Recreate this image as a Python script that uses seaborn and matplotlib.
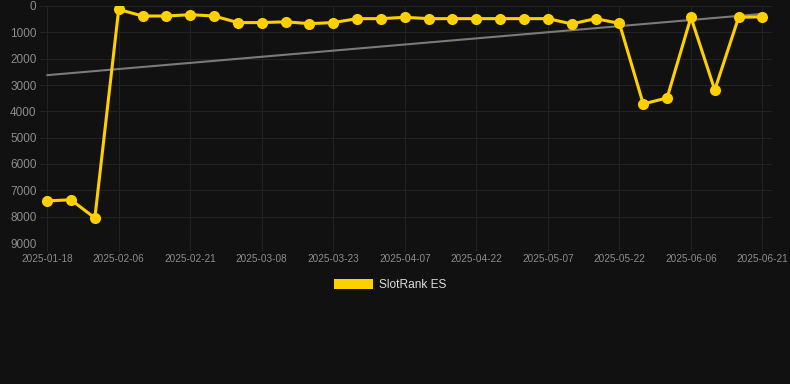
import numpy as np
import pandas as pd
import matplotlib
matplotlib.use("Agg")
import matplotlib.pyplot as plt
import seaborn as sns
from matplotlib.patches import Patch

# data (rank, lower is better)
dates = [
    "2025-01-18", "2025-01-23", "2025-01-28", "2025-02-06", "2025-02-11",
    "2025-02-16", "2025-02-21", "2025-02-26", "2025-03-03", "2025-03-08",
    "2025-03-13", "2025-03-18", "2025-03-23", "2025-03-28", "2025-04-02",
    "2025-04-07", "2025-04-12", "2025-04-17", "2025-04-22", "2025-04-27",
    "2025-05-02", "2025-05-07", "2025-05-12", "2025-05-17", "2025-05-22",
    "2025-05-27", "2025-06-01", "2025-06-06", "2025-06-11", "2025-06-16",
    "2025-06-21",
]
ranks = [
    7400, 7360, 8050, 130, 380, 380, 330, 380, 630, 630,
    600, 670, 630, 480, 480, 430, 480, 480, 480, 480,
    480, 480, 680, 480, 660, 3720, 3490, 430, 3190, 430,
    410,
]
series_name = "SlotRank ES"

BG = "#111111"
GRID = "#222222"
GOLD = "#FFD000"

sns.set_theme(style="dark")
plt.rcParams["font.family"] = ["Liberation Sans", "DejaVu Sans"]

df = pd.DataFrame({"date": dates, "rank": ranks})
df["idx"] = np.arange(len(df))

fig = plt.figure(figsize=(7.9, 3.84), dpi=100, facecolor=BG)
ax = fig.add_axes([40 / 790, 1 - 243 / 384, 732 / 790, 237 / 384])
ax.set_facecolor(BG)

# linear trend over the series
coef = np.polyfit(df["idx"], df["rank"], 1)
ax.plot(df["idx"], np.polyval(coef, df["idx"]), color="#7a7a7a", lw=1.5, zorder=2)

sns.lineplot(data=df, x="idx", y="rank", color=GOLD, lw=2.2, marker="o",
             markersize=8, markeredgewidth=0, ax=ax, zorder=3)

ax.set_ylim(9000, 0)
ax.set_xlim(-0.3, 30.4)
ax.set_yticks(range(0, 9001, 1000))
ax.set_xticks(df["idx"][::3])
ax.set_xticklabels(df["date"][::3])
ax.set_xlabel("")
ax.set_ylabel("")

ax.grid(True, color=GRID, lw=0.8)
for s in ax.spines.values():
    s.set_visible(False)
ax.tick_params(axis="y", length=0, pad=2.5, labelsize=8.5, labelcolor="#8c8c8c")
ax.tick_params(axis="x", length=6, width=0.8, color=GRID, pad=2,
               labelsize=7.2, labelcolor="#8c8c8c", bottom=True)

fig.legend(handles=[Patch(facecolor=GOLD, edgecolor="none", label=series_name)],
           loc="center", bbox_to_anchor=(390 / 790, 1 - 285 / 384),
           frameon=False, fontsize=8.6, labelcolor="#dddddd",
           handlelength=3.3, handleheight=0.9, handletextpad=0.5)

fig.savefig("out.png", dpi=100, facecolor=BG)
